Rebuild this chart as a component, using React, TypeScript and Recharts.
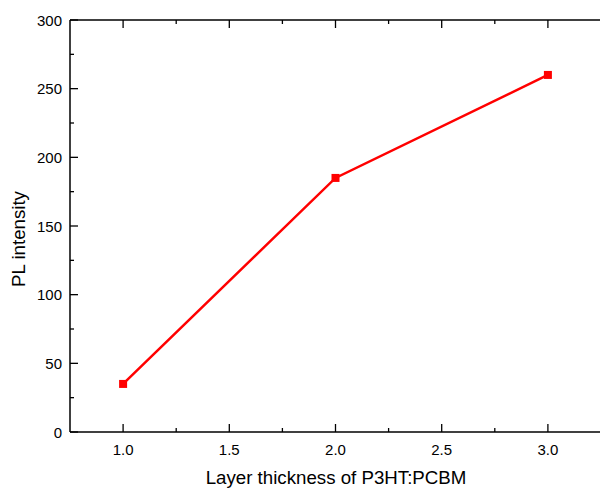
import { Label, Line, LineChart, XAxis, YAxis } from "recharts";

const thickness = [1.0, 2.0, 3.0];
const intensity = [35, 185, 260];

const xTicks = [1.0, 1.25, 1.5, 1.75, 2.0, 2.25, 2.5, 2.75, 3.0];
const yTicks = [0, 25, 50, 75, 100, 125, 150, 175, 200, 225, 250, 275, 300];

const data = thickness.map((t, i) => ({ t, v: intensity[i] }));

const FONT = "'Liberation Sans', Arial, sans-serif";
const MAJOR = 8;
const MINOR = 4;

const isMajorX = (v: number) => Math.abs(v * 2 - Math.round(v * 2)) < 1e-6;
const isMajorY = (v: number) => v % 50 === 0;

function BottomTick({ x, y, payload }: any) {
  const major = isMajorX(payload.value);
  return (
    <g>
      <line x1={x} y1={y} x2={x} y2={y - (major ? MAJOR : MINOR)} stroke="#000" strokeWidth={1.3} />
      {major && (
        <text x={x} y={y + 23} textAnchor="middle" fontSize={15} fontFamily={FONT} fill="#000">
          {payload.value.toFixed(1)}
        </text>
      )}
    </g>
  );
}

function TopTick({ x, y, payload }: any) {
  const major = isMajorX(payload.value);
  return <line x1={x} y1={y} x2={x} y2={y + (major ? MAJOR : MINOR)} stroke="#000" strokeWidth={1.3} />;
}

function LeftTick({ x, y, payload }: any) {
  const major = isMajorY(payload.value);
  return (
    <g>
      <line x1={x} y1={y} x2={x + (major ? MAJOR : MINOR)} y2={y} stroke="#000" strokeWidth={1.3} />
      {major && (
        <text x={x - 8} y={y + 5.5} textAnchor="end" fontSize={15} fontFamily={FONT} fill="#000">
          {payload.value}
        </text>
      )}
    </g>
  );
}

function RightTick({ x, y, payload }: any) {
  const major = isMajorY(payload.value);
  return <line x1={x} y1={y} x2={x - (major ? MAJOR : MINOR)} y2={y} stroke="#000" strokeWidth={1.3} />;
}

function SquareDot({ cx, cy }: any) {
  return <rect x={cx - 4} y={cy - 4} width={8} height={8} fill="#ff0000" />;
}

export default function App() {
  return (
    <div style={{ position: "absolute", left: 0, top: 0, width: 600, height: 489, background: "#fff", overflow: "hidden" }}>
      <LineChart width={602} height={489} data={data} margin={{ top: 19, right: 0, bottom: 56, left: 69 }}>
        <XAxis
          xAxisId="b"
          dataKey="t"
          type="number"
          domain={[0.75, 3.25]}
          ticks={xTicks}
          interval={0}
          height={1}
          tickSize={0}
          tickMargin={0}
          tickLine={false}
          tick={<BottomTick />}
          axisLine={{ stroke: "#000", strokeWidth: 1.5 }}
        >
          <Label
            content={({ viewBox }: any) => (
              <text
                x={336}
                y={viewBox.y + 52}
                textAnchor="middle"
                fontSize={18.7}
                fontFamily={FONT}
                fill="#000"
              >
                Layer thickness of P3HT:PCBM
              </text>
            )}
          />
        </XAxis>
        <XAxis
          xAxisId="t"
          orientation="top"
          dataKey="t"
          type="number"
          domain={[0.75, 3.25]}
          ticks={xTicks}
          interval={0}
          height={1}
          tickSize={0}
          tickMargin={0}
          tickLine={false}
          tick={<TopTick />}
          axisLine={{ stroke: "#000", strokeWidth: 1.5 }}
        />
        <YAxis
          yAxisId="l"
          type="number"
          domain={[0, 300]}
          ticks={yTicks}
          interval={0}
          width={1}
          tickSize={0}
          tickMargin={0}
          tickLine={false}
          tick={<LeftTick />}
          axisLine={{ stroke: "#000", strokeWidth: 1.5 }}
        >
          <Label
            content={({ viewBox }: any) => {
              const cx = viewBox.x + viewBox.width - 52;
              const cy = viewBox.y + viewBox.height / 2 + 13;
              return (
                <text
                  x={cx}
                  y={cy}
                  transform={`rotate(-90 ${cx} ${cy})`}
                  textAnchor="middle"
                  dominantBaseline="central"
                  fontSize={18.7}
                  fontFamily={FONT}
                  fill="#000"
                >
                  PL intensity
                </text>
              );
            }}
          />
        </YAxis>
        <YAxis
          yAxisId="r"
          orientation="right"
          type="number"
          domain={[0, 300]}
          ticks={yTicks}
          interval={0}
          width={1}
          tickSize={0}
          tickMargin={0}
          tickLine={false}
          tick={<RightTick />}
          axisLine={{ stroke: "#000", strokeWidth: 1.5 }}
        />
        <Line
          xAxisId="b"
          yAxisId="l"
          dataKey="v"
          type="linear"
          stroke="#ff0000"
          strokeWidth={2.5}
          dot={<SquareDot />}
          activeDot={false}
          isAnimationActive={false}
        />
      </LineChart>
    </div>
  );
}
